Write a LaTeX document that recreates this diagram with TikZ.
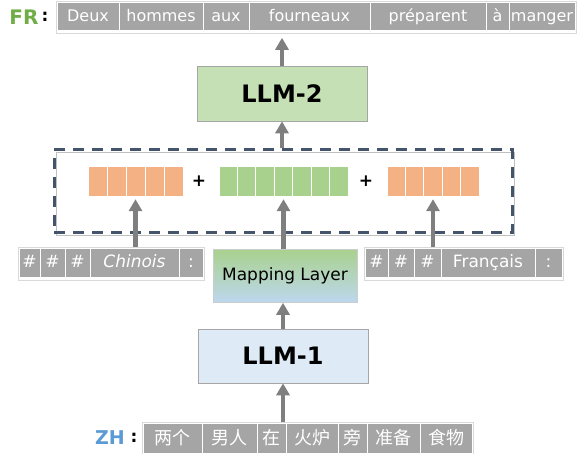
\documentclass[tikz,border=0pt]{standalone}
\usepackage{fontspec}
\setmainfont{DejaVu Sans}
\newfontfamily\cjk{Noto Sans CJK SC}
\usetikzlibrary{arrows.meta,calc}
\definecolor{cellgray}{HTML}{A5A5A5}
\definecolor{arrgray}{HTML}{7F7F7F}
\definecolor{orangeblk}{HTML}{F4B183}
\definecolor{greenblk}{HTML}{A9D18E}
\definecolor{llmgreen}{HTML}{C5E0B4}
\definecolor{llmblue}{HTML}{DEEBF7}
\definecolor{boxborder}{HTML}{A6A6A6}
\definecolor{dashcol}{HTML}{44546A}
\definecolor{frgreen}{HTML}{70AD47}
\definecolor{zhblue}{HTML}{5B9BD5}
\definecolor{mapgreen}{HTML}{A9D18E}
\definecolor{mapblue}{HTML}{BDD7EE}
\tikzset{
  tok/.style={draw=white, line width=0.8pt, fill=cellgray, text=white, inner sep=0pt},
  barframe/.style={draw=black!15, line width=0.6pt, inner sep=0pt},
  blkcell/.style={draw=white, line width=0.8pt, inner sep=0pt},
  llmbox/.style={draw=boxborder, line width=0.6pt, inner sep=0pt, minimum width=170pt, font=\fontsize{24}{26}\selectfont\bfseries},
  arr/.style={draw=arrgray, line width=4.5pt, -{Triangle[width=13pt,length=12pt]}},
  plusnode/.style={inner sep=0pt, font=\fontsize{17}{17}\selectfont\bfseries},
  lbl/.style={inner sep=0pt, font=\fontsize{20}{20}\selectfont\bfseries},
}
% name, x1, x2, y1, y2, text
\newcommand\tcell[6]{\node[tok, minimum width={(#3-#2)*1pt}, minimum height={(#5-#4)*1pt}] (#1) at ({(#2+#3)/2},{(#4+#5)/2}) {#6};}
\newcommand\tframe[5]{\node[barframe, minimum width={(#3-#2+2)*1pt}, minimum height={(#5-#4+4)*1pt}] (#1) at ({(#2+#3)/2},{(#4+#5)/2+1.5}) {};}
\begin{document}
\begin{tikzpicture}[x=1pt,y=-1pt]
\useasboundingbox (0,0) rectangle (582,454);

% ---------- FR bar ----------
\node[lbl, text=frgreen] (frlab) at (24,17) {FR};
\node[lbl, font=\fontsize{17}{17}\selectfont\bfseries] (frcolon) at (45,17) {:};
\tframe{frbar}{57}{575}{2}{30}
\begin{scope}[font=\fontsize{16}{18}\selectfont, tok/.append style={text height=11.7pt, text depth=1.5pt}]
\tcell{fr1}{57}{119}{2}{30}{Deux}
\tcell{fr2}{119}{203}{2}{30}{hommes}
\tcell{fr3}{203}{249}{2}{30}{aux}
\tcell{fr4}{249}{370}{2}{30}{fourneaux}
\tcell{fr5}{370}{486}{2}{30}{préparent}
\tcell{fr6}{486}{509}{2}{30}{à}
\tcell{fr7}{509}{575}{2}{30}{manger}
\end{scope}

% ---------- LLM-2 ----------
\node[llmbox, fill=llmgreen, minimum height=55pt] (llm2) at (282,93.5) {LLM-2};

% ---------- dashed box ----------
\draw[black!25, line width=0.6pt] (56,152) rectangle (514,235);
\node[draw=dashcol, line width=3pt, dash pattern=on 11pt off 8pt, minimum width=458pt, minimum height=83pt, inner sep=0pt] (dbox) at (283,191.5) {};

% blocks
\node[inner sep=0pt, minimum width=95pt, minimum height=30pt] (blkL) at (135.5,181) {};
\foreach \i in {0,...,4} {\node[blkcell, fill=orangeblk, minimum width=19pt, minimum height=30pt] at ({88+19*\i+9.5},181) {};}
\node[inner sep=0pt, minimum width=129pt, minimum height=30pt] (blkG) at (283.5,181) {};
\foreach \i in {0,...,6} {\node[blkcell, fill=greenblk, minimum width=18.43pt, minimum height=30pt] at ({219+18.43*\i+9.21},181) {};}
\node[inner sep=0pt, minimum width=92pt, minimum height=30pt] (blkR) at (433,181) {};
\foreach \i in {0,...,4} {\node[blkcell, fill=orangeblk, minimum width=18.4pt, minimum height=30pt] at ({387+18.4*\i+9.2},181) {};}
\node[plusnode] (plus1) at (199,181) {+};
\node[plusnode] (plus2) at (366,181) {+};

% ---------- side bars ----------
\begin{scope}[font=\fontsize{17}{19}\selectfont, tok/.append style={text height=12.4pt, text depth=1.6pt}]
\tframe{chbar}{19}{203}{248}{277}
\tcell{ch1}{19}{40}{248}{277}{\#}
\tcell{ch2}{40}{65}{248}{277}{\#}
\tcell{ch3}{65}{90}{248}{277}{\#}
\tcell{ch4}{90}{179}{248}{277}{\itshape Chinois}
\tcell{ch5}{179}{203}{248}{277}{:}
\tframe{fsbar}{365}{562}{248}{277}
\tcell{fs1}{365}{388}{248}{277}{\#}
\tcell{fs2}{388}{414}{248}{277}{\#}
\tcell{fs3}{414}{441}{248}{277}{\#}
\tcell{fs4}{441}{535}{248}{277}{Français}
\tcell{fs5}{535}{562}{248}{277}{:}
\end{scope}

% ---------- Mapping Layer ----------
\node[draw=black!20, line width=0.6pt, top color=mapgreen, bottom color=mapblue, minimum width=144pt, minimum height=53pt, inner sep=0pt, font=\fontsize{17}{19}\selectfont] (map) at (285,276) {Mapping Layer};

% ---------- LLM-1 ----------
\node[llmbox, fill=llmblue, minimum height=54pt] (llm1) at (283,356) {LLM-1};

% ---------- ZH bar ----------
\node[lbl, text=zhblue, font=\fontsize{19}{19}\selectfont\bfseries] (zhlab) at (110,438) {ZH};
\node[lbl, font=\fontsize{17}{17}\selectfont\bfseries] (zhcolon) at (134,438) {:};
\tframe{zhbar}{143}{472}{423}{453}
\begin{scope}[font=\fontsize{18}{20}\selectfont\cjk, tok/.append style={text height=14.5pt, text depth=1.5pt}]
\tcell{zh1}{143}{202}{423}{453}{两个}
\tcell{zh2}{202}{257}{423}{453}{男人}
\tcell{zh3}{257}{286}{423}{453}{在}
\tcell{zh4}{286}{338}{423}{453}{火炉}
\tcell{zh5}{338}{367}{423}{453}{旁}
\tcell{zh6}{367}{420}{423}{453}{准备}
\tcell{zh7}{420}{472}{423}{453}{食物}
\end{scope}

% ---------- arrows ----------
\draw[arr] (llm1.south |- zhbar.north) -- (llm1.south);
\draw[arr] (llm1.north) -- (llm1.north |- map.south);
\draw[arr] (blkG.south |- map.north) -- ([yshift=-3pt]blkG.south);
\draw[arr] (blkL.south |- chbar.north) -- ([yshift=-3pt]blkL.south);
\draw[arr] (blkR.south |- fsbar.north) -- ([yshift=-3pt]blkR.south);
\draw[arr] (llm2.south |- dbox.north) -- (llm2.south);
\draw[arr] (llm2.north) -- ([yshift=-4pt]llm2.north |- frbar.south);
\end{tikzpicture}
\end{document}
